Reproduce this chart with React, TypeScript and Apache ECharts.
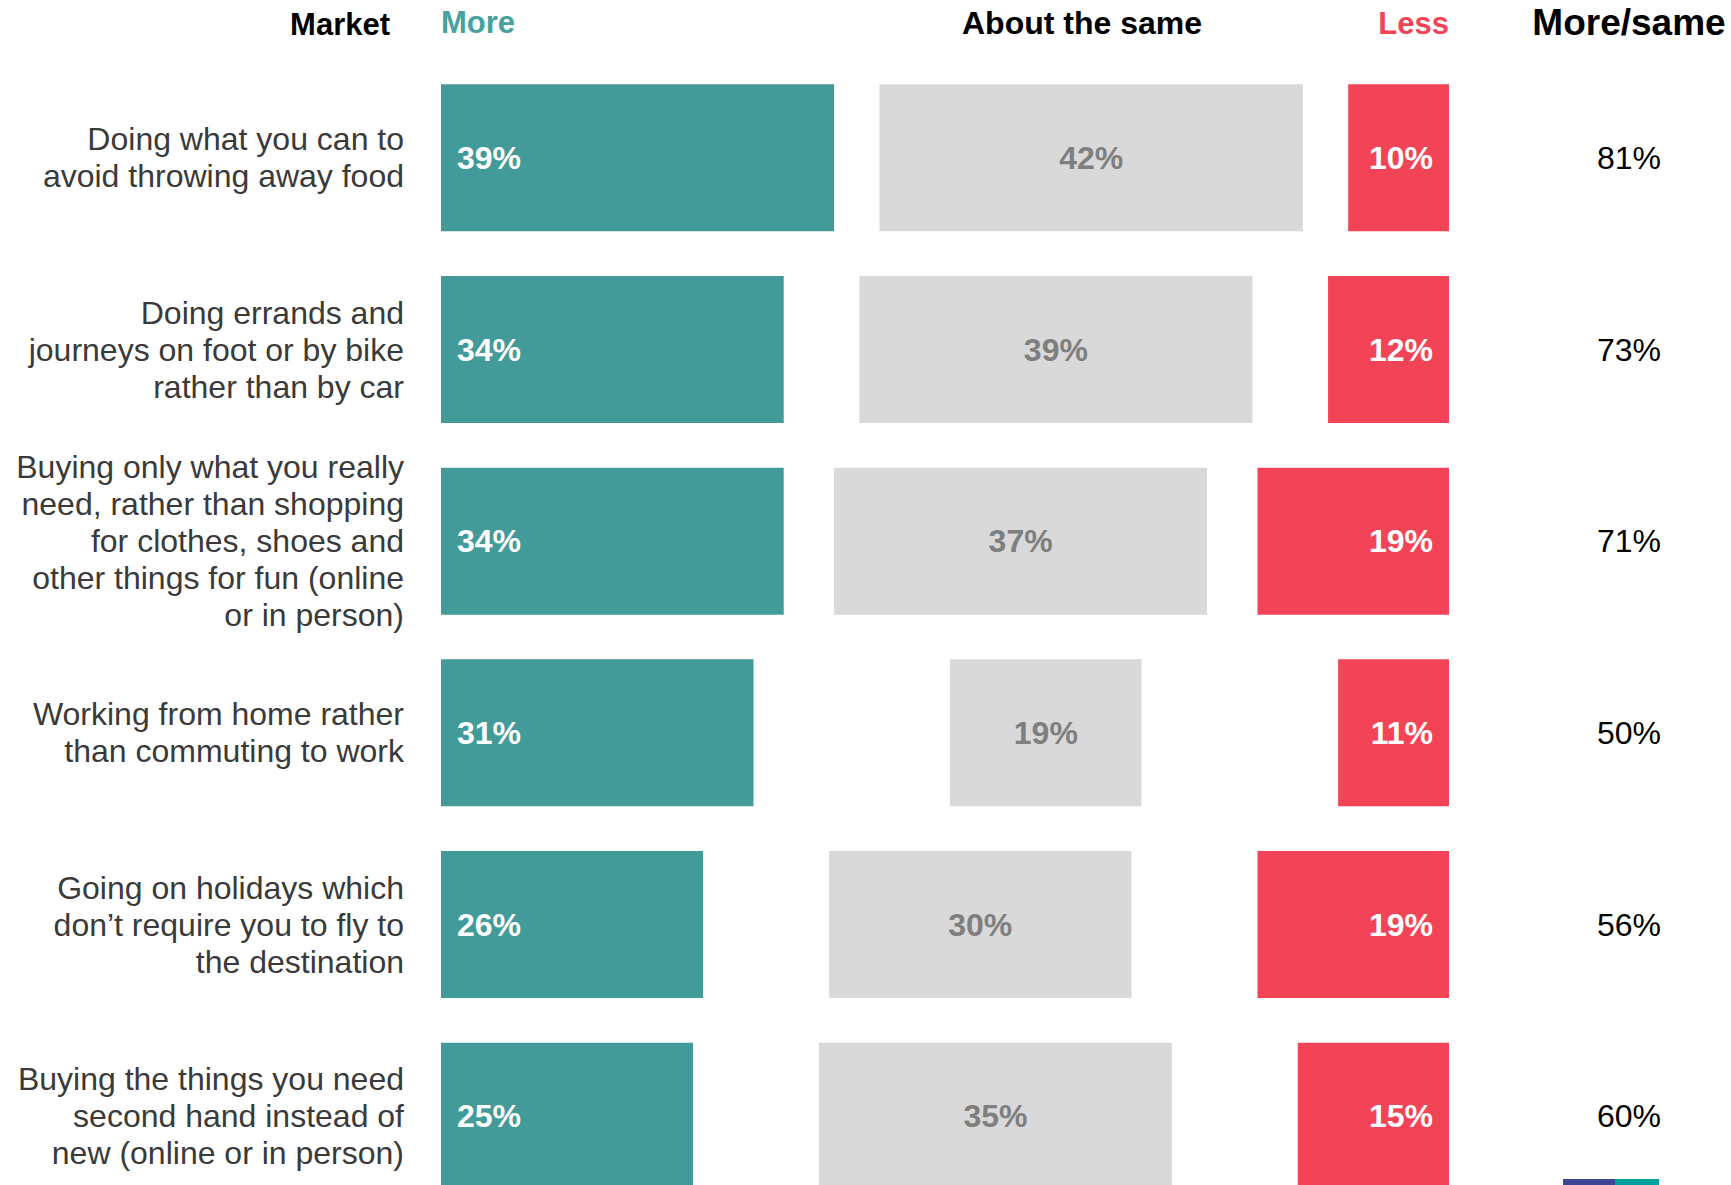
import React, { useEffect, useRef } from "react";
import * as echarts from "echarts";

const categories: string[] = [
  "Doing what you can to\navoid throwing away food",
  "Doing errands and\njourneys on foot or by bike\nrather than by car",
  "Buying only what you really\nneed, rather than shopping\nfor clothes, shoes and\nother things for fun (online\nor in person)",
  "Working from home rather\nthan commuting to work",
  "Going on holidays which\ndon’t require you to fly to\nthe destination",
  "Buying the things you need\nsecond hand instead of\nnew (online or in person)",
];
const more: number[] = [39, 34, 34, 31, 26, 25];
const same: number[] = [42, 39, 37, 19, 30, 35];
const less: number[] = [10, 12, 19, 11, 19, 15];
const dontKnow: number[] = [9, 15, 10, 39, 25, 25];
const moreSame: number[] = [81, 73, 71, 50, 56, 60];

const FONT = "'Liberation Sans', Arial, sans-serif";
const TEAL = "#429A99";
const GREY = "#D9D9D9";
const RED = "#F24456";

export default function App() {
  const ref = useRef<HTMLDivElement>(null);

  useEffect(() => {
    if (!ref.current) return;
    const chart = echarts.init(ref.current, undefined, { renderer: "svg" });
    const gap = dontKnow.map((d) => d / 2);

    const labelBase = {
      show: true,
      formatter: "{c}%",
      fontFamily: FONT,
      fontSize: 32,
      fontWeight: "bold" as const,
    };

    chart.setOption({
      animation: false,
      backgroundColor: "#ffffff",
      grid: { left: 441, right: 282, top: 62, height: 1150, containLabel: false },
      xAxis: { type: "value", min: 0, max: 100, show: false },
      yAxis: [
        {
          type: "category",
          inverse: true,
          data: categories,
          axisLine: { show: false },
          axisTick: { show: false },
          splitLine: { show: false },
          axisLabel: {
            fontFamily: FONT,
            fontSize: 32,
            lineHeight: 37,
            color: "#3a3a3a",
            margin: 37,
            align: "right",
          },
        },
        {
          type: "category",
          inverse: true,
          position: "right",
          data: moreSame.map((v) => v + "%"),
          axisLine: { show: false },
          axisTick: { show: false },
          splitLine: { show: false },
          axisLabel: {
            fontFamily: FONT,
            fontSize: 32,
            color: "#000000",
            margin: 180,
            align: "center",
          },
        },
      ],
      series: [
        {
          name: "More",
          type: "bar",
          stack: "total",
          barWidth: 147,
          data: more,
          itemStyle: { color: TEAL },
          label: { ...labelBase, position: "insideLeft", distance: 16, color: "#ffffff" },
        },
        {
          name: "gap1",
          type: "bar",
          stack: "total",
          data: gap,
          silent: true,
          itemStyle: { color: "rgba(0,0,0,0)" },
          label: { show: false },
        },
        {
          name: "About the same",
          type: "bar",
          stack: "total",
          data: same,
          itemStyle: { color: GREY },
          label: { ...labelBase, position: "inside", color: "#7F7F7F" },
        },
        {
          name: "gap2",
          type: "bar",
          stack: "total",
          data: gap,
          silent: true,
          itemStyle: { color: "rgba(0,0,0,0)" },
          label: { show: false },
        },
        {
          name: "Less",
          type: "bar",
          stack: "total",
          data: less,
          itemStyle: { color: RED },
          label: { ...labelBase, position: "insideRight", distance: 16, color: "#ffffff" },
        },
      ],
      graphic: [
        {
          type: "text",
          x: 390,
          y: 24,
          style: {
            text: "Market",
            fontFamily: FONT,
            fontSize: 31,
            fontWeight: "bold",
            fill: "#000000",
            align: "right",
            verticalAlign: "middle",
          },
        },
        {
          type: "text",
          x: 441,
          y: 22,
          style: {
            text: "More",
            fontFamily: FONT,
            fontSize: 31,
            fontWeight: "bold",
            fill: "#45A29F",
            align: "left",
            verticalAlign: "middle",
          },
        },
        {
          type: "text",
          x: 1082,
          y: 23,
          style: {
            text: "About the same",
            fontFamily: FONT,
            fontSize: 32,
            fontWeight: "bold",
            fill: "#000000",
            align: "center",
            verticalAlign: "middle",
          },
        },
        {
          type: "text",
          x: 1449,
          y: 23,
          style: {
            text: "Less",
            fontFamily: FONT,
            fontSize: 31,
            fontWeight: "bold",
            fill: RED,
            align: "right",
            verticalAlign: "middle",
          },
        },
        {
          type: "text",
          x: 1629,
          y: 22,
          style: {
            text: "More/same",
            fontFamily: FONT,
            fontSize: 37,
            fontWeight: "bold",
            fill: "#000000",
            align: "center",
            verticalAlign: "middle",
          },
        },
        {
          type: "rect",
          shape: { x: 1563, y: 1179, width: 52, height: 6 },
          style: { fill: "#3F4699" },
          z: 100,
        },
        {
          type: "rect",
          shape: { x: 1615, y: 1179, width: 44, height: 6 },
          style: { fill: "#00A19B" },
          z: 100,
        },
      ],
    });

    return () => {
      chart.dispose();
    };
  }, []);

  return (
    <div
      ref={ref}
      style={{ position: "fixed", left: 0, top: 0, width: 1731, height: 1240, background: "#fff" }}
    />
  );
}
